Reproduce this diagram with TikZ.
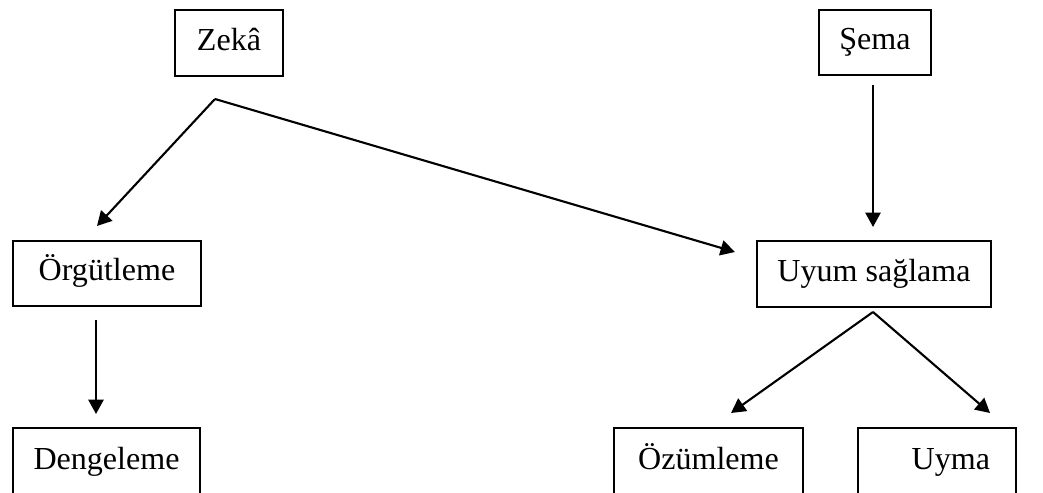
\documentclass[tikz,border=0pt]{standalone}
\usepackage{fontspec}
\setmainfont{Liberation Serif}
\usetikzlibrary{arrows.meta}

\begin{document}
\begin{tikzpicture}[x=0.025cm, y=-0.025cm,
  boite/.style={draw, line width=1.4pt, anchor=north west, inner sep=0pt,
    text height=0.525cm, text depth=0.15cm,
    font=\fontsize{22.8}{27}\selectfont},
  fleche/.style={line width=1.5pt, -{Triangle[length=0.36cm, width=0.38cm]}}]
  \useasboundingbox (0,0) rectangle (1043,492);

  % BOITES DU HAUT
  \node[boite, minimum width=2.7cm, minimum height=1.65cm] (zeka) at (174,9) {Zekâ};
  \node[boite, minimum width=2.8cm, minimum height=1.625cm] (sema) at (818,9) {Şema};

  % BOITES DU MILIEU
  \node[boite, minimum width=4.7cm, minimum height=1.625cm] (orgut) at (12,240) {Örgütleme};
  \node[boite, minimum width=5.85cm, minimum height=1.65cm] (uyum) at (756,240) {Uyum sağlama};

  % BOITES DU BAS
  \node[boite, minimum width=4.675cm, minimum height=1.7cm] (denge) at (12,427) {Dengeleme};
  \node[boite, minimum width=4.725cm, minimum height=1.7cm] (ozum) at (613,427) {Özümleme};
  \node[boite, minimum height=1.7cm, text width=2.65cm, align=right, inner xsep=0.65cm] (uyma) at (857,427) {Uyma};

  % POINTS DES FLECHES
  \coordinate (Z) at (215,99);
  \coordinate (Zg) at (97,226);
  \coordinate (Zd) at (735,252);
  \coordinate (S) at (873,85);
  \coordinate (Sb) at (873,227);
  \coordinate (O) at (96,320);
  \coordinate (Ob) at (96,414);
  \coordinate (U) at (873,312);
  \coordinate (Ug) at (731,413);
  \coordinate (Ud) at (990,413);

  % FLECHES
  \draw[fleche] (Z) -- (Zg);
  \draw[fleche] (Z) -- (Zd);
  \draw[fleche] (S) -- (Sb);
  \draw[fleche] (O) -- (Ob);
  \draw[fleche] (U) -- (Ug);
  \draw[fleche] (U) -- (Ud);
\end{tikzpicture}
\end{document}
